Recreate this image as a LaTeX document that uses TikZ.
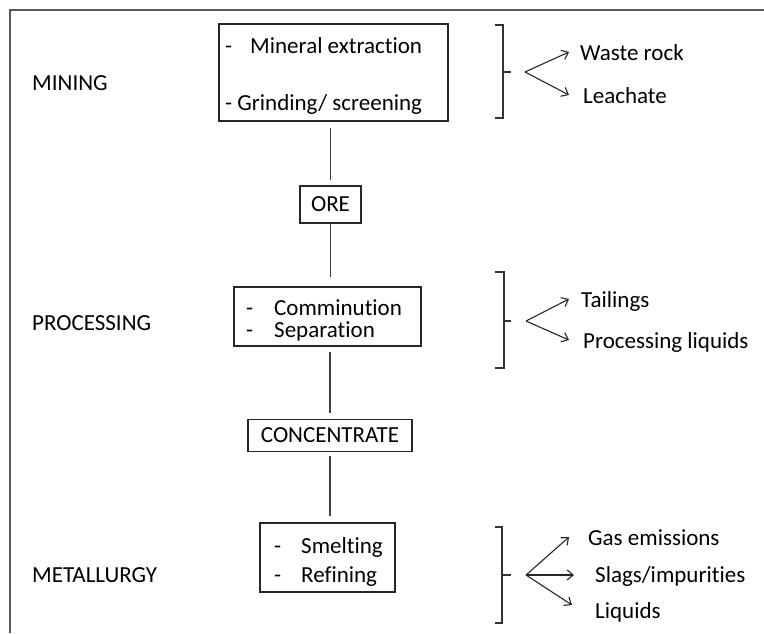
\documentclass[tikz,border=0pt]{standalone}
\usepackage{fontspec}
\setmainfont{Carlito}[Ligatures={NoCommon}]
\usetikzlibrary{arrows.meta}
\begin{document}
\begin{tikzpicture}[x=1pt,y=-1pt,
  txt/.style={font=\fontsize{23}{27}\selectfont, inner sep=0pt, anchor=base west, text=black},
  boxst/.style={draw=black!85, line width=1.3pt, inner sep=0pt, font=\fontsize{23}{27}\selectfont, text=black},
  conn/.style={draw=black!75, line width=1.2pt},
  brk/.style={draw=black!80, line width=1.1pt},
  arr/.style={draw=black!85, line width=1.1pt, -{Straight Barb[length=6pt,width=10pt]}},
  frame/.style={draw=black!65, line width=1.6pt}
]
\useasboundingbox (0,0) rectangle (764,633);
\draw[frame] (10,633) -- (10,10) -- (764,10);

% boxes
\node[boxst, minimum width=229, minimum height=97] (b1) at (333.5,72.5) {};
\node[boxst, minimum width=61, minimum height=37] (ore) at (330.5,204.5) {ORE};
\node[boxst, minimum width=187, minimum height=59] (b2) at (327.5,316.5) {};
\node[boxst, minimum width=164, minimum height=32] (conc) at (330,435.5) {CONCENTRATE};
\node[boxst, minimum width=135, minimum height=69] (b3) at (327.5,557.5) {};

% connectors
\draw[conn, shorten <=6pt, shorten >=5pt] (ore.north |- b1.south) -- (ore.north);
\draw[conn, shorten >=9pt] (ore.south) -- (ore.south |- b2.north);
\draw[conn, shorten <=5pt, shorten >=6pt] (b2.south -| conc.north) -- (conc.north);
\draw[conn, shorten <=4pt, shorten >=6pt] (conc.south) -- (conc.south |- b3.north);

% stage labels
\node[txt] (mining) at (32,90) {MINING};
\node[txt] (processing) at (32,330) {PROCESSING};
\node[txt] (metallurgy) at (32,582) {METALLURGY};

% box texts
\node[txt] (t11) at (225,53) {-\hspace{18pt}Mineral extraction};
\node[txt] (t12) at (225,110) {- Grinding/ screening};
\node[txt] (t21d) at (246,315) {-};
\node[txt] (t21) at (274,315) {Comminution};
\node[txt] (t22d) at (246,337) {-};
\node[txt] (t22) at (274,337) {Separation};
\node[txt] (t31d) at (274,553) {-};
\node[txt] (t31) at (301,553) {Smelting};
\node[txt] (t32d) at (274,582) {-};
\node[txt] (t32) at (301,582) {Refining};

% outputs
\node[txt] (waste) at (580,60) {Waste rock};
\node[txt] (leach) at (583,103) {Leachate};
\node[txt] (tail) at (581,307) {Tailings};
\node[txt] (pliq) at (583,348) {Processing liquids};
\node[txt] (gas) at (588,545) {Gas emissions};
\node[txt] (slag) at (595,582) {Slags/impurities};
\node[txt] (liq) at (595,618) {Liquids};

% brackets
\draw[brk] (495,25) -- (503,25) -- (503,118) -- (495,118);
\draw[brk] (503,72) -- (511,72);
\draw[brk] (495,272) -- (504,272) -- (504,368) -- (495,368);
\draw[brk] (504,321) -- (511,321);
\draw[brk] (495,527) -- (502,527) -- (502,623) -- (495,623);
\draw[brk] (502,575) -- (511,575);

% arrows
\coordinate (ap1) at (525,72);
\coordinate (e1a) at (569,52);
\coordinate (e1b) at (569,95);
\draw[arr] (ap1) -- (e1a);
\draw[arr] (ap1) -- (e1b);
\coordinate (ap2) at (526,321);
\coordinate (e2a) at (569,299);
\coordinate (e2b) at (569,340);
\draw[arr] (ap2) -- (e2a);
\draw[arr] (ap2) -- (e2b);
\coordinate (ap3) at (526,575);
\coordinate (e3a) at (569,537);
\coordinate (e3b) at (574,575);
\coordinate (e3c) at (572,605);
\draw[arr] (ap3) -- (e3a);
\draw[arr] (ap3) -- (e3b);
\draw[arr] (ap3) -- (e3c);
\end{tikzpicture}
\end{document}
